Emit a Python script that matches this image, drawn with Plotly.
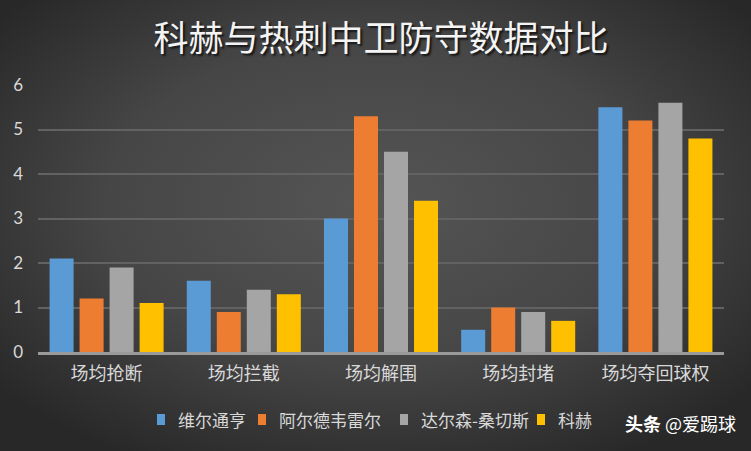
import plotly.graph_objects as go

# 数据
categories = ["场均抢断", "场均拦截", "场均解围", "场均封堵", "场均夺回球权"]
players = ["维尔通亨", "阿尔德韦雷尔", "达尔森-桑切斯", "科赫"]
vertonghen = [2.1, 1.6, 3.0, 0.5, 5.5]
alderweireld = [1.2, 0.9, 5.3, 1.0, 5.2]
sanchez = [1.9, 1.4, 4.5, 0.9, 5.6]
koch = [1.1, 1.3, 3.4, 0.7, 4.8]
colors = ["#5B9BD5", "#ED7D31", "#A5A5A5", "#FFC000"]

W, H = 751, 451
ML, MR, MT, MB = 38, 27, 85, 99
pw = W - ML - MR
ph = H - MT - MB

# 图例方块的左边位置 (px)
legend_x = [157, 258, 400, 537]
legend_y = 419


def px_x(v):
    return (v - ML) / pw


def px_y(v):
    return (H - MB - v) / ph


# 背景渐变 (svg data uri)
bg_svg = (
    "data:image/svg+xml;utf8,"
    "<svg xmlns='http://www.w3.org/2000/svg' width='751' height='451'>"
    "<defs><radialGradient id='g' cx='50%' cy='45%' r='65%'>"
    "<stop offset='0%' stop-color='%23555555'/>"
    "<stop offset='55%' stop-color='%23464646'/>"
    "<stop offset='100%' stop-color='%23282828'/>"
    "</radialGradient></defs>"
    "<rect width='751' height='451' fill='url(%23g)'/></svg>"
)

fig = go.Figure()
for name, vals, c in zip(players, [vertonghen, alderweireld, sanchez, koch], colors):
    fig.add_trace(go.Bar(x=categories, y=vals, name=name, marker_color=c,
                         marker_line_width=0))

fig.add_layout_image(dict(
    source=bg_svg, xref="paper", yref="paper",
    x=-ML / pw, y=1 + MT / ph, sizex=W / pw, sizey=H / ph,
    xanchor="left", yanchor="top", sizing="stretch", layer="below"
))

# 手工图例
for name, c, lx in zip(players, colors, legend_x):
    fig.add_shape(type="rect", xref="paper", yref="paper",
                  x0=px_x(lx), x1=px_x(lx + 8), y0=px_y(legend_y - 5), y1=px_y(legend_y + 6),
                  fillcolor=c, line_width=0)
    fig.add_annotation(text=name, xref="paper", yref="paper",
                       x=px_x(lx + 19), y=px_y(legend_y), xanchor="left", yanchor="middle",
                       showarrow=False,
                       font=dict(family="Noto Sans CJK SC", size=17, color="#d9d9d9"))

fig.update_layout(
    width=W, height=H,
    margin=dict(l=ML, r=MR, t=MT, b=MB),
    paper_bgcolor="#3c3c3c",
    plot_bgcolor="rgba(0,0,0,0)",
    barmode="group", bargap=0.125, bargroupgap=0.2,
    title=dict(text="科赫与热刺中卫防守数据对比", x=0.5, xref="paper", xanchor="center",
               y=1 - 39 / H, yanchor="middle",
               font=dict(family="Noto Sans CJK SC", size=35, color="#f4f4f4",
                         shadow="2px 2px 2px #151515")),
    font=dict(family="Noto Sans CJK SC", color="#d9d9d9"),
    showlegend=False,
)
fig.update_yaxes(range=[0, 6], dtick=1, showgrid=True, gridcolor="#626262", gridwidth=1.5,
                 zeroline=False, showline=False, ticklabelstandoff=14,
                 tickfont=dict(family="Lato", size=17, color="#d9d9d9"))
fig.update_xaxes(showline=True, linecolor="#9a9a9a", linewidth=2.5, showgrid=False,
                 tickfont=dict(family="Noto Sans CJK SC", size=18, color="#d9d9d9"),
                 ticklabelstandoff=4)

fig.add_annotation(text="<b>头条</b> @爱踢球", xref="paper", yref="paper",
                   x=px_x(738), y=px_y(423), xanchor="right", yanchor="middle",
                   showarrow=False, font=dict(family="Noto Sans CJK SC", size=18, color="#ffffff"))

fig.write_html("out.html", config={"displayModeBar": False},
               post_script="document.body.style.margin='0';")
